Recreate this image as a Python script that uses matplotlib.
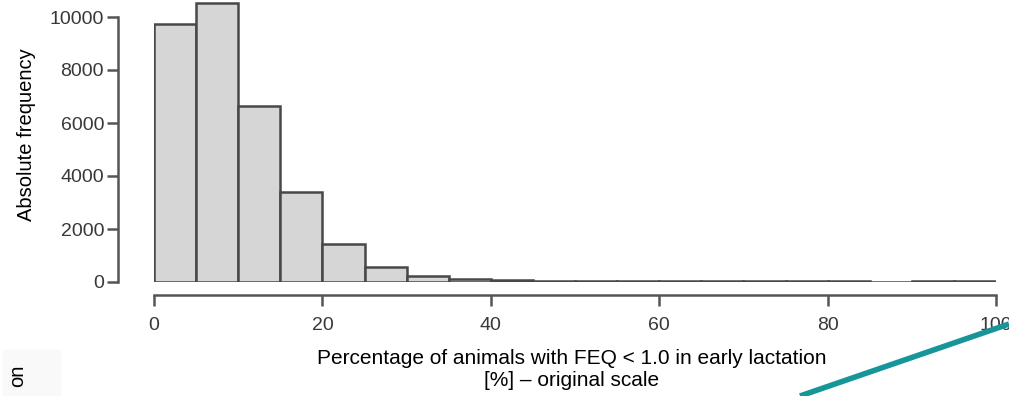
import numpy as np
import matplotlib
matplotlib.use("Agg")
import matplotlib.pyplot as plt

# histogram of herd-level share of animals with FEQ < 1.0 (bin width 5 %)
bin_edges = [0, 5, 10, 15, 20, 25, 30, 35, 40, 45, 50, 55, 60, 65, 70, 75,
             80, 85, 90, 95, 100]
counts = [9750, 10530, 6650, 3400, 1450, 560, 220, 110, 60, 50, 45, 25, 22,
          20, 20, 20, 20, 3, 20, 25]

x_ticks = [0, 20, 40, 60, 80, 100]
y_ticks = [0, 2000, 4000, 6000, 8000, 10000]

W, H = 1009, 396
fig = plt.figure(figsize=(W / 100, H / 100), dpi=100)
plt.rcParams['font.family'] = ['Liberation Sans', 'DejaVu Sans']

# axes box in pixels: x 0..100 -> 154..996, y 0 -> 282, 26.5 px per 1000
x0, x1 = 154, 996
ybase = 282
ppu = 26.5 / 1000
ytop_val = 10620
ax = fig.add_axes([x0 / W, (H - ybase) / H, (x1 - x0) / W, ytop_val * ppu / H])
ax.set_xlim(0, 100)
ax.set_ylim(0, ytop_val)

edge = '#484848'
ax.bar(bin_edges[:-1], counts, width=np.diff(bin_edges), align='edge',
       color='#d6d6d6', edgecolor=edge, linewidth=1.8)

for s in ['top', 'right']:
    ax.spines[s].set_visible(False)
ax.spines['left'].set_position(('outward', 36 * 0.72))
ax.spines['bottom'].set_position(('outward', 13 * 0.72))
ax.spines['left'].set_bounds(0, 10000)
ax.spines['bottom'].set_bounds(0, 100)
for s in ['left', 'bottom']:
    ax.spines[s].set_color('#555555')
    ax.spines[s].set_linewidth(1.8)

ax.set_xticks(x_ticks)
ax.set_yticks(y_ticks)
ax.tick_params(axis='both', colors='#555555', width=1.8, length=8,
               labelsize=14, labelcolor='#383838')
ax.tick_params(axis='x', pad=8)
ax.tick_params(axis='y', pad=2)

ax.set_ylabel('Absolute frequency', fontsize=14.5, color='black')
ax.yaxis.set_label_coords(-(154 - 36) / (x1 - x0), (282 - 135) / (ytop_val * ppu))
fig.text(572 / W, 1 - 369 / H,
         'Percentage of animals with FEQ < 1.0 in early lactation\n[%] – original scale',
         ha='center', va='center', fontsize=15, linespacing=1.2)

# neighbouring panel fragments
fig.patches.append(plt.Rectangle((3 / W, 0), 57 / W, 46 / H, transform=fig.transFigure,
                                 color='#f9f9f9', zorder=0))
fig.text(18 / W, 1 - 376 / H, 'on', rotation=90, ha='center', va='center',
         fontsize=14.5)
fig.add_artist(plt.Line2D([800 / W, 1.0], [0, 1 - 324 / H], transform=fig.transFigure,
                          color='#17969a', linewidth=4, solid_capstyle='butt'))

fig.savefig('out.png', dpi=100)
